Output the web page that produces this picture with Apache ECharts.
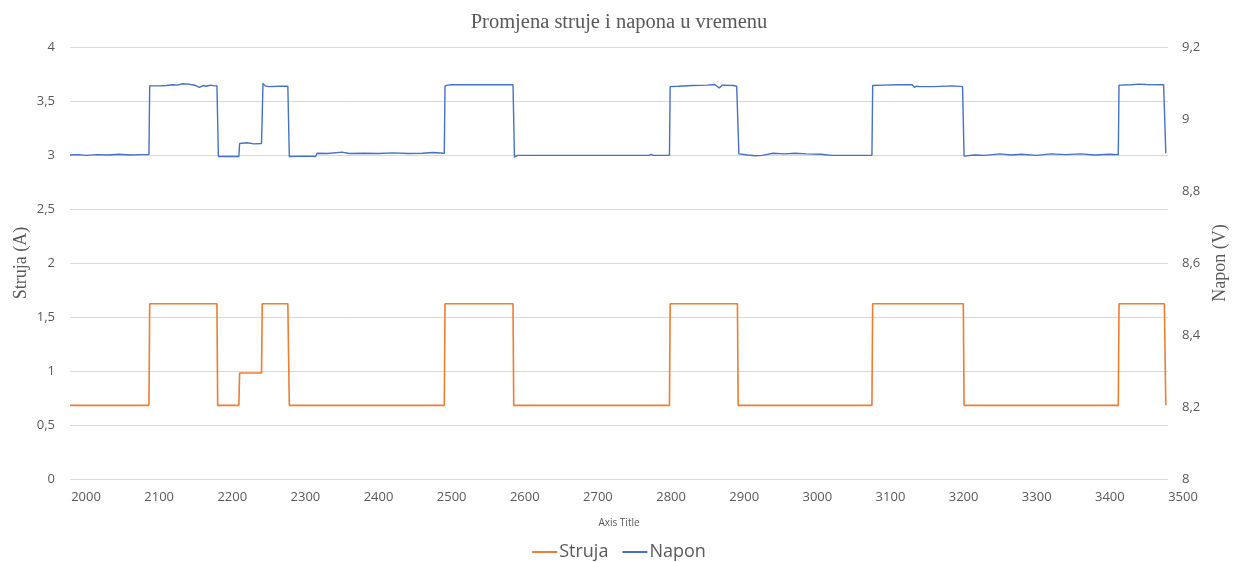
<!DOCTYPE html>
<html>
<head>
<meta charset="utf-8">
<title>Promjena struje i napona u vremenu</title>
<script src="https://cdn.jsdelivr.net/npm/echarts@6/dist/echarts.min.js"></script>
<style>
  html, body { margin: 0; padding: 0; background: #fff; }
  #chart { width: 1238px; height: 562px; }
</style>
</head>
<body>
<div id="chart"></div>
<script>
// vrijeme (s) i struja (A) - prijelomne tocke ocitane s grafa
const strujaT = [1978, 2086, 2087, 2179, 2180, 2209, 2210, 2224, 2225, 2226, 2240, 2241, 2276, 2278,
  2490, 2491, 2584, 2585, 2798, 2799, 2891, 2892, 3075, 3076, 3200, 3201, 3412, 3413, 3475, 3477]
const strujaV = [0.682, 0.682, 1.623, 1.623, 0.682, 0.682, 0.981, 0.981, 0.99, 0.981, 0.981, 1.623, 1.623, 0.682,
  0.682, 1.623, 1.623, 0.682, 0.682, 1.623, 1.623, 0.682, 0.682, 1.623, 1.623, 0.682, 0.682, 1.623, 1.623, 0.682]

// vrijeme (s) i napon (V)
const naponT = [1978, 1990, 2000, 2015, 2030, 2045, 2060, 2075, 2086,
  2087, 2100, 2110, 2118, 2125, 2132, 2140, 2145, 2150, 2155, 2160, 2165, 2170, 2176, 2179,
  2181, 2195, 2209, 2210, 2220, 2230, 2240,
  2242, 2245, 2250, 2265, 2276, 2278, 2300, 2314,
  2316, 2330, 2350, 2360, 2380, 2400, 2420, 2440, 2460, 2475, 2490,
  2491, 2495, 2500, 2540, 2584, 2586, 2590, 2650, 2700, 2770, 2773, 2776, 2798,
  2799, 2810, 2830, 2850, 2860, 2866, 2870, 2885, 2890,
  2893, 2905, 2915, 2925, 2940, 2955, 2970, 2985, 3005, 3020, 3050, 3075,
  3076, 3090, 3110, 3130, 3133, 3136, 3140, 3160, 3185, 3199,
  3201, 3215, 3230, 3250, 3265, 3280, 3300, 3320, 3340, 3360, 3380, 3400, 3412,
  3413, 3430, 3440, 3450, 3474, 3477]
const naponV = [8.900, 8.901, 8.899, 8.901, 8.900, 8.902, 8.900, 8.901, 8.901,
  9.092, 9.092, 9.093, 9.095, 9.094, 9.098, 9.097, 9.095, 9.093, 9.088, 9.093, 9.091, 9.094, 9.092, 9.092,
  8.896, 8.896, 8.896, 8.932, 8.934, 8.931, 8.932,
  9.099, 9.092, 9.090, 9.091, 9.091, 8.896, 8.897, 8.896,
  8.905, 8.904, 8.908, 8.904, 8.905, 8.904, 8.906, 8.904, 8.905, 8.907, 8.905,
  9.092, 9.094, 9.095, 9.095, 9.095, 8.894, 8.899, 8.899, 8.899, 8.899, 8.902, 8.899, 8.899,
  9.090, 9.091, 9.093, 9.094, 9.096, 9.086, 9.094, 9.093, 9.091,
  8.903, 8.900, 8.898, 8.899, 8.905, 8.903, 8.905, 8.903, 8.902, 8.899, 8.899, 8.899,
  9.093, 9.094, 9.095, 9.095, 9.088, 9.091, 9.090, 9.090, 9.092, 9.090,
  8.897, 8.900, 8.899, 8.903, 8.900, 8.902, 8.899, 8.903, 8.901, 8.903, 8.900, 8.902, 8.901,
  9.094, 9.095, 9.097, 9.096, 9.095, 8.905]

const xTicks = [2000, 3500]   // prva i zadnja oznaka na osi x
const leftRange = [0, 4, 0.5]
const rightRange = [8, 9.2, 0.2]

const toPairs = (t, v) => t.map((x, i) => [x, v[i]])
const comma = v => String(+v.toFixed(2)).replace('.', ',')

const chart = echarts.init(document.getElementById('chart'), null, { renderer: 'canvas' })

const labelStyle = { color: '#595959', fontSize: 13, fontFamily: 'Open Sans' }

chart.setOption({
  animation: false,
  backgroundColor: '#fff',
  title: {
    text: 'Promjena struje i napona u vremenu',
    left: 'center',
    top: 7,
    textStyle: { fontFamily: 'Liberation Serif', fontSize: 20.5, fontWeight: 'normal', color: '#595959' }
  },
  legend: {
    bottom: -4,
    left: 'center',
    icon: 'rect',
    itemWidth: 25,
    itemHeight: 2,
    itemGap: 14,
    textStyle: { color: '#595959', fontSize: 18, fontFamily: 'Open Sans', padding: [0, 0, 0, -3] },
    data: ['Struja', 'Napon']
  },
  grid: [
    { left: 70, right: 70, top: 47, bottom: 83 },
    { left: 86, right: 55, top: 47, bottom: 83 }
  ],
  xAxis: [
    {
      type: 'value', gridIndex: 0, min: 1978, max: 3480,
      axisLine: { show: false }, axisTick: { show: false }, axisLabel: { show: false },
      splitLine: { show: false },
      name: 'Axis Title', nameLocation: 'middle', nameGap: 39,
      nameTextStyle: { color: '#595959', fontSize: 10, fontFamily: 'Open Sans' }
    },
    {
      // samo oznake 2000..3500
      type: 'value', gridIndex: 1, min: xTicks[0], max: xTicks[1], interval: 100,
      axisLine: { show: false }, axisTick: { show: false }, splitLine: { show: false },
      axisLabel: { ...labelStyle, margin: 12, formatter: v => String(v) }
    }
  ],
  yAxis: [
    {
      type: 'value', gridIndex: 0, min: leftRange[0], max: leftRange[1], interval: leftRange[2],
      axisLine: { show: false }, axisTick: { show: false },
      axisLabel: { ...labelStyle, margin: 15, formatter: comma },
      splitLine: { lineStyle: { color: '#d9d9d9', width: 1 } },
      name: 'Struja (A)', nameLocation: 'middle', nameGap: 40, nameRotate: 90,
      nameMoveOverlap: false,
      nameTextStyle: { fontFamily: 'Liberation Serif', fontSize: 18, color: '#595959' }
    },
    {
      type: 'value', gridIndex: 0, position: 'right', min: rightRange[0], max: rightRange[1], interval: rightRange[2],
      axisLine: { show: false }, axisTick: { show: false },
      axisLabel: { ...labelStyle, margin: 14, formatter: comma },
      splitLine: { show: false },
      name: 'Napon (V)', nameLocation: 'middle', nameGap: 42, nameRotate: 90,
      nameTextStyle: { fontFamily: 'Liberation Serif', fontSize: 18, color: '#595959' }
    },
    { type: 'value', gridIndex: 1, show: false }
  ],
  series: [
    {
      name: 'Struja', type: 'line', xAxisIndex: 0, yAxisIndex: 0,
      data: toPairs(strujaT, strujaV),
      symbol: 'none', color: '#ED7D31',
      lineStyle: { width: 1.6, color: '#ED7D31' }
    },
    {
      name: 'Napon', type: 'line', xAxisIndex: 0, yAxisIndex: 1,
      data: toPairs(naponT, naponV),
      symbol: 'none', color: '#4472C4',
      lineStyle: { width: 1.4, color: '#4472C4' }
    }
  ]
})
</script>
</body>
</html>
